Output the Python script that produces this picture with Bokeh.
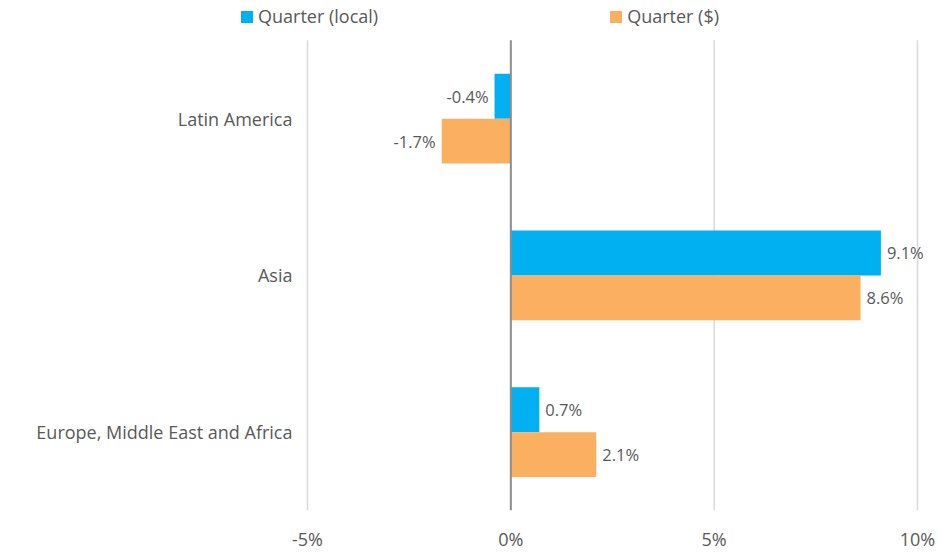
from bokeh.plotting import figure
from bokeh.models import ColumnDataSource, Range1d, Legend, LegendItem, PrintfTickFormatter, FixedTicker
from bokeh.transform import dodge
from bokeh.core.properties import value
from bokeh.embed import file_html
from bokeh.resources import INLINE

categories = ["Latin America", "Asia", "Europe, Middle East and Africa"]
local_vals = [-0.4, 9.1, 0.7]
usd_vals = [-1.7, 8.6, 2.1]
series_names = ["Quarter (local)", "Quarter ($)"]
x_ticks = [-5, 0, 5, 10]

BLUE = "#00B0F0"
ORANGE = "#FBAF61"
TXT = "#595959"
FONT = "Open Sans"

def lbl(v):
    return f"{v:.1f}%"

n = len(categories)
ypos = [n - 1 - i for i in range(n)]  # first category on top

src = ColumnDataSource(dict(
    cat=categories,
    y=ypos,
    local=local_vals,
    usd=usd_vals,
))

X_MIN, X_MAX = -12.549, 10.713
Y_MIN, Y_MAX = -0.5, n - 0.5 + 0.2537

p = figure(width=952, height=553, output_backend="svg", toolbar_location=None,
           x_range=Range1d(X_MIN, X_MAX), y_range=Range1d(Y_MIN, Y_MAX))
p.min_border_left = 0
p.min_border_right = 6
p.min_border_top = 0
p.min_border_bottom = 40
p.outline_line_color = None
p.background_fill_color = "white"
p.border_fill_color = "white"
p.xgrid.visible = False
p.ygrid.visible = False
p.yaxis.visible = False

# vertical gridlines (only over the category band)
gsrc = ColumnDataSource(dict(x=[t for t in x_ticks if t != 0]))
p.segment(x0="x", x1="x", y0=Y_MIN, y1=n - 0.5, source=gsrc,
          line_color="#D9D9D9", line_width=1.5)

r1 = p.hbar(y=dodge("y", 0.1435), right="local", left=0, height=0.287,
            source=src, fill_color=BLUE, line_color=None)
r2 = p.hbar(y=dodge("y", -0.1435), right="usd", left=0, height=0.287,
            source=src, fill_color=ORANGE, line_color=None)

# zero line
p.segment(x0=[0], x1=[0], y0=[Y_MIN], y1=[n - 0.5], line_color="#8C8C8C", line_width=2)

# value labels: negative values to the left, positive to the right
for col, off in (("local", 0.1435), ("usd", -0.1435)):
    vals = src.data[col]
    for want_neg, align, xo in ((True, "right", -6), (False, "left", 6)):
        idx = [i for i, v in enumerate(vals) if (v < 0) == want_neg]
        if not idx:
            continue
        s = ColumnDataSource(dict(
            y=[ypos[i] for i in idx],
            x=[vals[i] for i in idx],
            t=[lbl(vals[i]) for i in idx],
        ))
        p.text(x="x", y=dodge("y", off), text="t", source=s,
               text_align=align, text_baseline="middle", x_offset=xo,
               text_color=TXT, text_font_size="16.5px", text_font=value(FONT))

# category labels, right-aligned left of the plot area
csrc = ColumnDataSource(dict(x=[x_ticks[0]] * n, y=ypos, t=categories))
p.text(x="x", y="y", text="t", source=csrc, text_align="right", text_baseline="middle",
       x_offset=-15, text_color=TXT, text_font_size="18px", text_font=value(FONT))

p.xaxis.ticker = FixedTicker(ticks=x_ticks)
p.xaxis.formatter = PrintfTickFormatter(format="%d%%")
p.xaxis.axis_line_color = None
p.xaxis.major_tick_line_color = None
p.xaxis.minor_tick_line_color = None
p.xaxis.major_tick_out = 0
p.xaxis.major_tick_in = 0
p.xaxis.minor_tick_out = 0
p.xaxis.major_label_text_color = TXT
p.xaxis.major_label_text_font = FONT
p.xaxis.major_label_text_font_size = "18px"
p.xaxis.major_label_standoff = 16

legend = Legend(items=[LegendItem(label=series_names[0], renderers=[r1]),
                       LegendItem(label=series_names[1], renderers=[r2])],
                orientation="horizontal", location=(239, 482),
                glyph_width=15, glyph_height=15, label_standoff=4, spacing=230,
                label_height=18,
                label_text_font=FONT, label_text_font_size="18px", label_text_color=TXT,
                border_line_color=None, background_fill_alpha=0, padding=0, margin=0)
p.add_layout(legend, "center")

open("out.html", "w").write(file_html(p, INLINE))
